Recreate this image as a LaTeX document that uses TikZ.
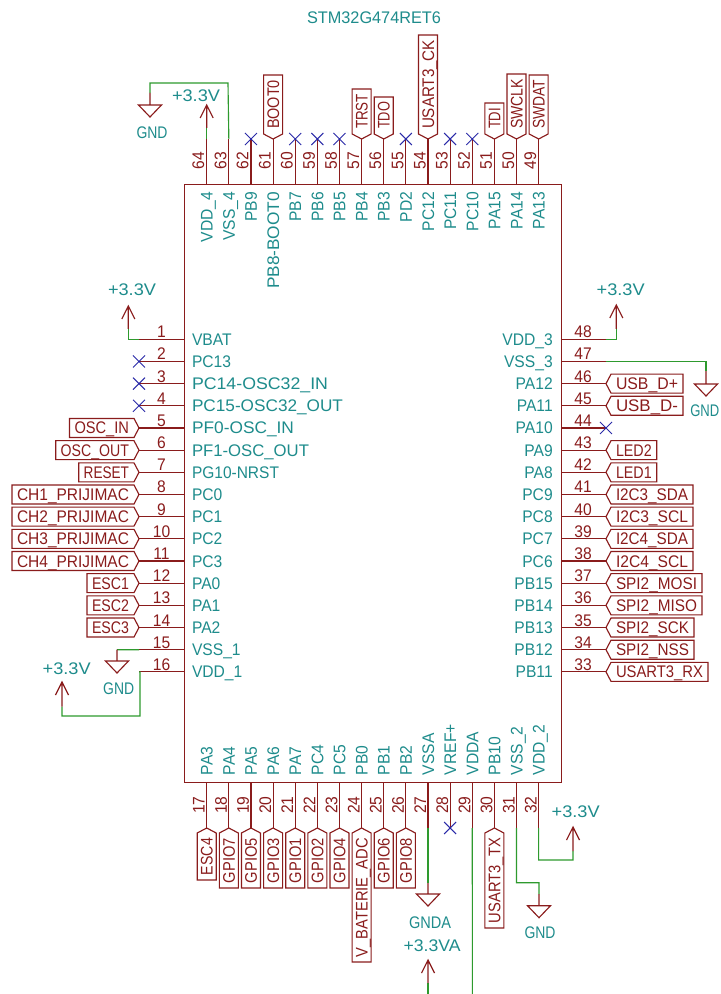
\documentclass[tikz,border=0pt]{standalone}
\usepackage{fontspec}
\setmainfont[FakeStretch=0.93]{Liberation Sans}
\definecolor{kred}{HTML}{8A1C1C}
\definecolor{kteal}{HTML}{1E8C8C}
\definecolor{kgreen}{HTML}{2E9A2E}
\definecolor{kblue}{HTML}{2A2AA8}
\tikzset{
  pinline/.style={draw=kred,line width=0.85pt},
  wire/.style={draw=kgreen,line width=0.85pt},
  nc/.style={draw=kblue,line width=0.7pt},
  lbl/.style={inner sep=0pt,outer sep=0pt,font=\fontsize{12.6pt}{13pt}\selectfont,text height=9pt,text depth=0pt},
  pname/.style={lbl,text=kteal},
  pnum/.style={lbl,text=kred},
  ltxt/.style={lbl,text=kred},
}
\newsavebox\fitbox
\newcommand{\fitw}[2]{\sbox\fitbox{#2}\pgfmathsetmacro\fs{0.93*(#1)*0.75/\the\wd\fitbox}\edef\fsdo{\noexpand\addfontfeature{FakeStretch=\fs}}{\fsdo #2}}
\newcommand{\NCx}[1]{\draw[nc] ([shift={(-6,-6)}]#1) -- ([shift={(6,6)}]#1) ([shift={(-6,6)}]#1) -- ([shift={(6,-6)}]#1);}
\newcommand{\PwrUp}[2]{\draw[pinline] (#1) -- (#2) ([shift={(-6.5,13)}]#2) -- (#2) -- ([shift={(6.5,13)}]#2);}
\newcommand{\Gnd}[2]{\draw[pinline] (#1) -- (#2) ([shift={(-11.5,0)}]#2) -- ([shift={(11.5,0)}]#2) -- ([shift={(0,12)}]#2) -- cycle;}
\newcommand{\LLab}[3]{\draw[pinline] (#2,\py-9.5) -- (134,\py-9.5) -- (139,\py) -- (134,\py+9.5) -- (#2,\py+9.5) -- cycle;
  \node[ltxt] (lab#1) at ({(#2+134)/2},\py) {\fitw{134-#2-10}{#3}};}
\newcommand{\RLab}[3]{\draw[pinline] (#2,\py-9.5) -- (611,\py-9.5) -- (606,\py) -- (611,\py+9.5) -- (#2,\py+9.5) -- cycle;
  \node[ltxt] (lab#1) at ({(#2+611)/2},\py) {\fitw{#2-611-10}{#3}};}
\newcommand{\TLab}[3]{\draw[pinline] (\px-9.5,#2) -- (\px-9.5,134) -- (\px,139) -- (\px+9.5,134) -- (\px+9.5,#2) -- cycle;
  \node[ltxt,rotate=90] (lab#1) at (\px,{(#2+134)/2}) {\fitw{134-#2-10}{#3}};}
\newcommand{\BLab}[3]{\draw[pinline] (\px-9.5,#2) -- (\px-9.5,833) -- (\px,828) -- (\px+9.5,833) -- (\px+9.5,#2) -- cycle;
  \node[ltxt,rotate=90] (lab#1) at (\px,{(#2+833)/2}) {\fitw{#2-833-10}{#3}};}
\begin{document}
\begin{tikzpicture}[x=0.75pt,y=-0.75pt]
\useasboundingbox (0,0) rectangle (720,994);
\fill[white] (0,0) rectangle (720,994);
\node[pname] (title) at (374,18) {\fitw{134}{STM32G474RET6}};
\node[draw=kred,line width=0.85pt,minimum width=282.75pt,minimum height=448.5pt,inner sep=0pt,anchor=north west] (chip) at (183.5,184) {};
% left pins
\foreach \n/\nm in {1/VBAT,2/PC13,3/{\fitw{136}{PC14-OSC32\_IN}},4/{\fitw{151}{PC15-OSC32\_OUT}},5/{\fitw{102}{PF0-OSC\_IN}},6/{\fitw{117}{PF1-OSC\_OUT}},7/{\fitw{87}{PG10-NRST}},8/PC0,9/PC1,10/PC2,11/PC3,12/PA0,13/PA1,14/PA2,15/VSS\_1,16/VDD\_1}{
  \pgfmathsetmacro\py{339.3+22.17*(\n-1)}
  \coordinate (a\n) at (183.5,\py); \coordinate (p\n) at (139,\py);
  \draw[pinline] (a\n) -- (p\n);
  \node[pnum] (num\n) at (161.5,\py-7.5) {\n};
  \node[pname,anchor=west] (nm\n) at (192,\py) {\nm};
}
% right pins
\foreach \n/\nm in {48/VDD\_3,47/VSS\_3,46/PA12,45/PA11,44/PA10,43/PA9,42/PA8,41/PC9,40/PC8,39/PC7,38/PC6,37/PB15,36/PB14,35/PB13,34/PB12,33/PB11}{
  \pgfmathsetmacro\py{339.3+22.17*(48-\n)}
  \coordinate (a\n) at (561,\py); \coordinate (p\n) at (606,\py);
  \draw[pinline] (a\n) -- (p\n);
  \node[pnum] (num\n) at (583,\py-7.5) {\n};
  \node[pname,anchor=east] (nm\n) at (552.7,\py) {\nm};
}
% top pins
\foreach \n/\nm in {64/VDD\_4,63/VSS\_4,62/PB9,61/{\fitw{97}{PB8-BOOT0}},60/PB7,59/PB6,58/PB5,57/PB4,56/PB3,55/PD2,54/PC12,53/PC11,52/PC10,51/PA15,50/PA14,49/PA13}{
  \pgfmathsetmacro\px{206.7+22.13*(64-\n)}
  \coordinate (a\n) at (\px,184); \coordinate (p\n) at (\px,139);
  \draw[pinline] (a\n) -- (p\n);
  \node[pnum,rotate=90] (num\n) at (\px-8.5,161) {\n};
  \node[pname,rotate=90,anchor=east] (nm\n) at (\px,192) {\nm};
}
% bottom pins
\foreach \n/\nm in {17/PA3,18/PA4,19/PA5,20/PA6,21/PA7,22/PC4,23/PC5,24/PB0,25/PB1,26/PB2,27/VSSA,28/VREF+,29/VDDA,30/PB10,31/VSS\_2,32/VDD\_2}{
  \pgfmathsetmacro\px{206.7+22.13*(\n-17)}
  \coordinate (a\n) at (\px,782); \coordinate (p\n) at (\px,828);
  \draw[pinline] (a\n) -- (p\n);
  \node[pnum,rotate=90] (num\n) at (\px-8,805) {\n};
  \node[pname,rotate=90,anchor=west] (nm\n) at (\px,775) {\nm};
}
% left labels
\foreach \n/\t/\e in {5/OSC\_IN/69.5,6/OSC\_OUT/55.7,7/RESET/78.7,8/CH1\_PRIJIMAC/12,9/CH2\_PRIJIMAC/12,10/CH3\_PRIJIMAC/12,11/CH4\_PRIJIMAC/12,12/ESC1/87,13/ESC2/87,14/ESC3/87}{
  \pgfmathsetmacro\py{339.3+22.17*(\n-1)}
  \LLab{\n}{\e}{\t}
}
% right labels
\foreach \n/\t/\e in {46/USB\_D+/683,45/USB\_D-/683,43/LED2/656.7,42/LED1/656.7,41/I2C3\_SDA/693,40/I2C3\_SCL/693,39/I2C4\_SDA/693,38/I2C4\_SCL/693,37/SPI2\_MOSI/702,36/SPI2\_MISO/702,35/SPI2\_SCK/694,34/SPI2\_NSS/694,33/USART3\_RX/708}{
  \pgfmathsetmacro\py{339.3+22.17*(48-\n)}
  \RLab{\n}{\e}{\t}
}
% top labels
\foreach \n/\t/\e in {61/BOOT0/75,57/TRST/89,56/TDO/97,54/USART3\_CK/35,51/TDI/103,50/SWCLK/74,49/SWDAT/75}{
  \pgfmathsetmacro\px{206.7+22.13*(64-\n)}
  \TLab{\n}{\e}{\t}
}
% bottom labels
\foreach \n/\t/\e in {17/ESC4/880,18/GPIO7/888,19/GPIO5/888,20/GPIO3/888,21/GPIO1/888,22/GPIO2/888,23/GPIO4/888,24/V\_BATERIE\_ADC/962,25/GPIO6/888,26/GPIO8/888,30/USART3\_TX/928}{
  \pgfmathsetmacro\px{206.7+22.13*(\n-17)}
  \BLab{\n}{\e}{\t}
}
% no connects
\foreach \n in {2,3,4,44,62,60,59,58,55,53,52,28}{ \NCx{p\n} }
% power: pin 1
\coordinate (c1a) at (128.3,339.3); \coordinate (c1b) at (128.3,329); \coordinate (t1) at (128.3,306);
\draw[wire] (p1) -- (c1a) -- (c1b); \PwrUp{c1b}{t1}
\node[pname] (v1) at (132,290) {\fitw{48}{+3.3V}};
% pin 15 gnd
\coordinate (c15a) at (117,649.68); \coordinate (g15) at (117,661);
\draw[wire] (p15) -- (c15a); \Gnd{c15a}{g15}
\node[pname] (g15t) at (118.7,688.3) {\fitw{31}{GND}};
% pin 16
\coordinate (c16a) at (140,671.85); \coordinate (c16b) at (140,716); \coordinate (c16c) at (62,716); \coordinate (c16d) at (62,706.7); \coordinate (t16) at (62,682);
\draw[wire] (p16) -- (c16a) -- (c16b) -- (c16c) -- (c16d); \PwrUp{c16d}{t16}
\node[pname] (v16) at (66.7,668) {\fitw{48}{+3.3V}};
% pin 48
\coordinate (c48a) at (616.3,339.3); \coordinate (c48b) at (616.3,329); \coordinate (t48) at (616.3,305);
\draw[wire] (p48) -- (c48a) -- (c48b); \PwrUp{c48b}{t48}
\node[pname] (v48) at (620.7,290) {\fitw{48}{+3.3V}};
% pin 47
\coordinate (c47a) at (706,361.47); \coordinate (c47b) at (706,371); \coordinate (g47) at (706,384);
\draw[wire] (p47) -- (c47a) -- (c47b); \Gnd{c47b}{g47}
\node[pname,anchor=east] (g47t) at (719.3,410.7) {\fitw{29}{GND}};
% pin 64
\coordinate (c64) at (206.7,128); \coordinate (t64) at (206.7,105);
\draw[wire] (p64) -- (c64); \PwrUp{c64}{t64}
\node[pname] (v64) at (196,96) {\fitw{48}{+3.3V}};
% pin 63
\coordinate (c63a) at (228,83); \coordinate (c63b) at (150,83); \coordinate (c63c) at (150,93); \coordinate (g63) at (150,105);
\draw[wire] (p63) -- (c63a) -- (c63b) -- (c63c); \Gnd{c63c}{g63}
\node[pname] (g63t) at (152,133) {\fitw{31}{GND}};
% pin 27
\coordinate (c27) at ([yshift=-41.25pt]p27); \coordinate (g27) at ([yshift=-49.5pt]p27);
\draw[wire] (p27) -- (c27); \Gnd{c27}{g27}
\node[pname] (g27t) at (430,922) {\fitw{42}{GNDA}};
% pin 29 and +3.3VA
\coordinate (e29) at (472.4,994);
\draw[wire] (p29) -- (e29);
\coordinate (b3) at (428,994); \coordinate (c3) at (428,983); \coordinate (t3) at (428,960);
\draw[wire] (b3) -- (c3); \PwrUp{c3}{t3}
\node[pname] (v3) at (432,945.7) {\fitw{57}{+3.3VA}};
% pin 31
\coordinate (c31a) at (516.5,882.7); \coordinate (c31b) at (539,882.7); \coordinate (c31c) at (539,894); \coordinate (g31) at (539,905.7);
\draw[wire] (p31) -- (c31a) -- (c31b) -- (c31c); \Gnd{c31c}{g31}
\node[pname] (g31t) at (540,932.7) {\fitw{31}{GND}};
% pin 32
\coordinate (c32a) at (538.6,860); \coordinate (c32b) at (573,860); \coordinate (c32c) at (573,851); \coordinate (t32) at (573,827);
\draw[wire] (p32) -- (c32a) -- (c32b) -- (c32c); \PwrUp{c32c}{t32}
\node[pname] (v32) at (575.7,811.7) {\fitw{48}{+3.3V}};
\end{tikzpicture}
\end{document}
